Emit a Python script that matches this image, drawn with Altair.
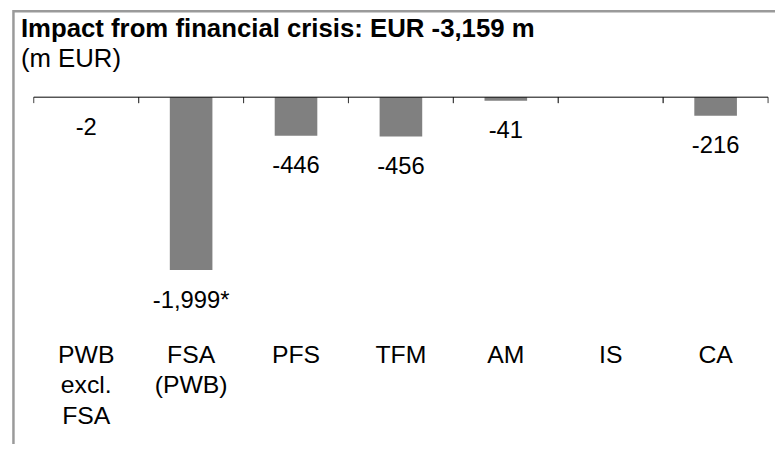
import altair as alt
import pandas as pd

# ---- data ----
categories = ["PWB\nexcl.\nFSA", "FSA\n(PWB)", "PFS", "TFM", "AM", "IS", "CA"]
values = [-2, -1999, -446, -456, -41, 0, -216]
value_labels = ["-2", "-1,999*", "-446", "-456", "-41", "", "-216"]

title_text = "Impact from financial crisis: EUR -3,159 m"
subtitle_text = "(m EUR)"

df = pd.DataFrame({"cat": categories, "value": values, "label": value_labels})

FONT = "Liberation Sans"
W, H = 741, 218

xscale = alt.Scale(paddingInner=0, paddingOuter=0)
yscale = alt.Scale(domain=[-2500, 0], nice=False, zero=True)

bars = alt.Chart(df).mark_bar(color="#808080", size=43).encode(
    x=alt.X("cat:N", sort=categories, scale=xscale, title=None,
            axis=alt.Axis(orient="bottom", domain=False, ticks=False, tickSize=0,
                          labelPadding=30, labelFontSize=25, labelFont=FONT,
                          labelColor="black", labelAngle=0, labelLineHeight=30.5,
                          labelExpr="split(datum.value, '\\n')", grid=False)),
    y=alt.Y("value:Q", scale=yscale, axis=None),
)

labels = alt.Chart(df).mark_text(
    baseline="top", dy=19, fontSize=24, font=FONT, color="black"
).encode(
    x=alt.X("cat:N", sort=categories, scale=xscale),
    y=alt.Y("value:Q", scale=yscale, axis=None),
    text="label:N",
)

# small ticks hanging from the zero line at the category boundaries
ticks_start = alt.Chart(df).mark_rule(color="#404040", strokeWidth=1).encode(
    x=alt.X("cat:N", sort=categories, scale=xscale, bandPosition=0),
    y=alt.value(0), y2=alt.value(6),
)
ticks_end = alt.Chart(df).mark_rule(color="#404040", strokeWidth=1).encode(
    x=alt.X("cat:N", sort=categories, scale=xscale, bandPosition=1),
    y=alt.value(0), y2=alt.value(6),
)

zero_line = alt.Chart(pd.DataFrame({"z": [0]})).mark_rule(
    color="black", strokeWidth=1
).encode(y=alt.Y("z:Q", scale=yscale, axis=None))

frame = alt.Chart(pd.DataFrame({"f": [0]})).mark_rect(
    fill="transparent", stroke="#9a9a9a", strokeWidth=2.5
).encode(
    x=alt.value(-20.5), x2=alt.value(800), y=alt.value(-86.7), y2=alt.value(420)
)

chart = alt.layer(frame, bars, ticks_start, ticks_end, zero_line, labels).properties(
    width=W, height=H,
    background="white",
    autosize=alt.AutoSizeParams(type="none"),
    padding={"left": 26, "top": 88, "right": 7, "bottom": 130},
    title=alt.TitleParams(
        text=title_text, subtitle=subtitle_text, anchor="start", frame="group",
        font=FONT, fontSize=26, fontWeight="bold", color="black",
        subtitleFont=FONT, subtitleFontSize=26, subtitleColor="black",
        subtitlePadding=5, dx=-13, offset=-63,
    ),
).configure_view(strokeWidth=0, stroke="transparent")

chart.save("out.html", embed_options={"renderer": "svg", "actions": False})
